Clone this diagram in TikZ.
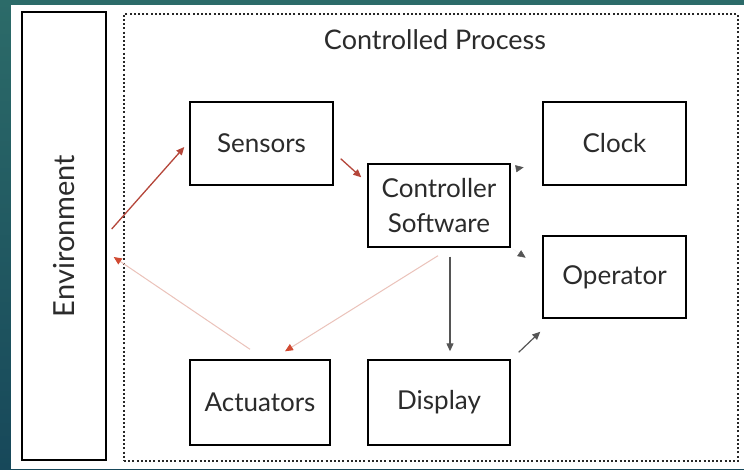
\documentclass[tikz,border=0pt]{standalone}
\usepackage{fontspec}
\setmainfont{Lato}
\usetikzlibrary{arrows.meta,calc,shadows}
\definecolor{tealtop}{HTML}{2C6B69}
\definecolor{tealbot}{HTML}{17485A}
\definecolor{inkgray}{HTML}{2B2B2B}
\definecolor{flowred}{HTML}{B5463A}
\definecolor{tipred}{HTML}{D14A32}
\definecolor{paleline}{HTML}{EBC2BA}
\definecolor{arrgray}{HTML}{555555}
\tikzset{
  box/.style={draw=black, line width=1.4pt, fill=white, rectangle,
    font=\fontsize{26}{35}\selectfont, text=inkgray, align=center,
    drop shadow={shadow xshift=1pt, shadow yshift=-1pt, opacity=0.35, fill=gray}},
  strong/.style={draw=flowred, line width=1.3pt, -{Triangle[length=8pt,width=7pt]}},
  faint/.style={draw=paleline, line width=1pt, -{Triangle[length=8pt,width=7pt,fill=tipred,color=tipred]}},
  grayarr/.style={draw=arrgray, line width=1.2pt, -{Triangle[length=8pt,width=7pt]}},
  ghost/.style={draw=white!90!gray, line width=0.5pt, -{Triangle[length=8pt,width=7pt,fill=arrgray,color=arrgray]}},
}
\begin{document}
\begin{tikzpicture}[x=1pt,y=-1pt]
  \useasboundingbox (0,0) rectangle (744,469);
  % backdrop
  \shade[top color=tealtop, bottom color=tealbot] (0,0) rectangle (744,469);
  \fill[white] (11,5) rectangle (744,469);

  % controlled process boundary
  \node[draw=black!85, line width=1.9pt, dash pattern=on 2pt off 2.2pt,
        minimum width=614pt, minimum height=447pt, inner sep=0pt] (proc) at (431,237.5) {};
  \node[font=\fontsize{27}{30}\selectfont, text=inkgray] (title) at (435,40) {Controlled Process};

  % environment
  \node[box, minimum width=84pt, minimum height=448pt, inner sep=0pt] (env) at (64,236) {};
  \node[font=\fontsize{29}{32}\selectfont, text=inkgray, rotate=90] (envlabel) at (env.center) {Environment};

  % components
  \node[box, minimum width=143pt, minimum height=83pt] (sensors) at (261.5,143.5) {Sensors};
  \node[box, minimum width=142pt, minimum height=83pt, inner sep=1pt] (ctrl) at (439,205.5) {Controller\\Software};
  \node[box, minimum width=143pt, minimum height=83pt] (clock) at (614.5,143.5) {Clock};
  \node[box, minimum width=143pt, minimum height=82pt] (operator) at (614.5,277) {Operator};
  \node[box, minimum width=140pt, minimum height=85pt] (actuators) at (260,402.5) {Actuators};
  \node[box, minimum width=142pt, minimum height=85pt] (display) at (439,402.5) {Display};

  % signal flow
  \draw[strong] ($(env.east)+(5,-7)$) -- ($(sensors.west)+(-5,3.5)$);
  \draw[strong] ($(sensors.south east)+(7,-27)$) -- ($(ctrl.north west)+(-6,14)$);
  \draw[ghost] ($(ctrl.north east)+(2,6)$) -- ($(ctrl.north east)+(13,4)$);
  \draw[ghost] ($(ctrl.south east)+(2,1)$) -- ($(ctrl.south east)+(15,10)$);
  \draw[grayarr] ($(ctrl.south)+(11,9)$) -- ($(display.north)+(11,-8)$);
  \draw[faint] ($(ctrl.south)+(-1,8)$) -- ($(actuators.north)+(25,-8)$);
  \draw[faint] ($(actuators.north)+(-10,-10)$) -- ($(env.east)+(7,21)$);
  \draw[grayarr] ($(display.north east)+(8,-7)$) -- ($(operator.south west)+(-2,13)$);
\end{tikzpicture}
\end{document}
